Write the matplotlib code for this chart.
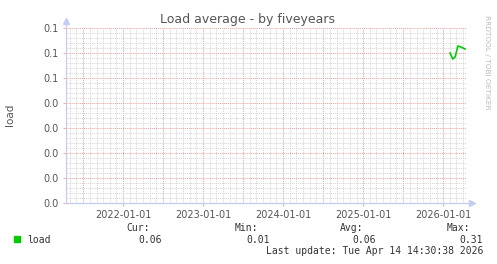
import matplotlib
matplotlib.use("Agg")
import matplotlib.pyplot as plt
import matplotlib.dates as mdates
import numpy as np
import pandas as pd

# data
dates = ["2026-02-01", "2026-02-13", "2026-02-24", "2026-03-04", "2026-03-09",
         "2026-03-23", "2026-04-01", "2026-04-10"]
load = [0.0600, 0.0576, 0.0584, 0.0612, 0.0628, 0.0624, 0.0620, 0.0616]
ytick_vals = [0.0, 0.01, 0.02, 0.03, 0.04, 0.05, 0.06, 0.07]
legend_stats = [("Cur:", "0.06"), ("Min:", "0.01"), ("Avg:", "0.06"), ("Max:", "0.31")]

W, H = 497, 264
fig = plt.figure(figsize=(W / 100, H / 100), dpi=100)
fig.patch.set_facecolor("white")

def px(x, y):
    return x / W, 1 - y / H

ax = fig.add_axes([66 / W, (H - 203) / H, 400 / W, 175 / H])
ax.set_facecolor("white")

start = pd.Timestamp("2021-04-14 14:30")
end = pd.Timestamp("2026-04-14 14:30")
ax.set_xlim(start, end)
ax.set_ylim(0, 0.07)

# grid
minor_c = "#d4d4d4"
major_c = "#eca0a0"
for m in pd.date_range("2021-05-01", "2026-04-01", freq="MS"):
    c = major_c if m.month in (1, 7) else minor_c
    ax.axvline(m, color=c, lw=0.7, ls=(0, (1, 1)), zorder=1)
for v in np.arange(0, 0.0701, 0.002):
    major = abs(v / 0.01 - round(v / 0.01)) < 1e-6
    ax.axhline(v, color=major_c if major else minor_c, lw=0.7, ls=(0, (1, 1)), zorder=1)

ax.plot(pd.to_datetime(dates), load, color="#00cc00", lw=1.2, zorder=3)

ax.set_yticks(ytick_vals)
ax.yaxis.set_major_formatter(matplotlib.ticker.FormatStrFormatter("%.1f"))
ax.xaxis.set_major_locator(mdates.YearLocator())
ax.xaxis.set_major_formatter(mdates.DateFormatter("%Y-%m-%d"))
ax.tick_params(axis="both", labelsize=7, colors="#555555", length=2, width=0.6, pad=3)
ax.tick_params(axis="x", color="#eca0a0")
ax.tick_params(axis="y", color="#eca0a0")

for s in ("top", "right"):
    ax.spines[s].set_visible(False)
for s in ("left", "bottom"):
    ax.spines[s].set_color("#c4ccf4")
    ax.spines[s].set_linewidth(0.9)
ax.plot([0, 0], [1, 1.04], color="#c4ccf4", lw=0.9, transform=ax.transAxes, clip_on=False)
ax.plot([0], [1.04], marker="^", ms=4, color="#c4ccf4", transform=ax.transAxes, clip_on=False)
ax.plot([1, 1.015], [0, 0], color="#c4ccf4", lw=0.9, transform=ax.transAxes, clip_on=False)
ax.plot([1.015], [0], marker=">", ms=4, color="#c4ccf4", transform=ax.transAxes, clip_on=False)

fig.text(*px(248, 19), "Load average - by fiveyears", ha="center", va="center",
         fontsize=9, color="#555555")
fig.text(*px(10, 115), "load", ha="center", va="center", rotation=90,
         fontsize=7.5, color="#555555")
fig.text(*px(487, 15), "RRDTOOL / TOBI OETIKER", ha="center", va="top", rotation=270,
         fontsize=5.3, color="#bbbbbb")

# legend
mono = "DejaVu Sans Mono"
fig.patches.append(plt.Rectangle(px(14, 242), 6 / W, 6 / H, color="#00cc00",
                                 transform=fig.transFigure))
fig.text(*px(27, 240), "load", ha="left", va="center", fontsize=7, family=mono,
         color="#333333")
label_x = [150, 258, 363, 470]
value_x = [162, 270, 376, 483]
for (lab, val), lx, vx in zip(legend_stats, label_x, value_x):
    fig.text(*px(lx, 228), lab, ha="right", va="center", fontsize=7, family=mono,
             color="#333333")
    fig.text(*px(vx, 240), val, ha="right", va="center", fontsize=7, family=mono,
             color="#333333")
fig.text(*px(483, 251), "Last update: Tue Apr 14 14:30:38 2026", ha="right",
         va="center", fontsize=7, family=mono, color="#333333")

fig.savefig("out.png", dpi=100, facecolor="white")
